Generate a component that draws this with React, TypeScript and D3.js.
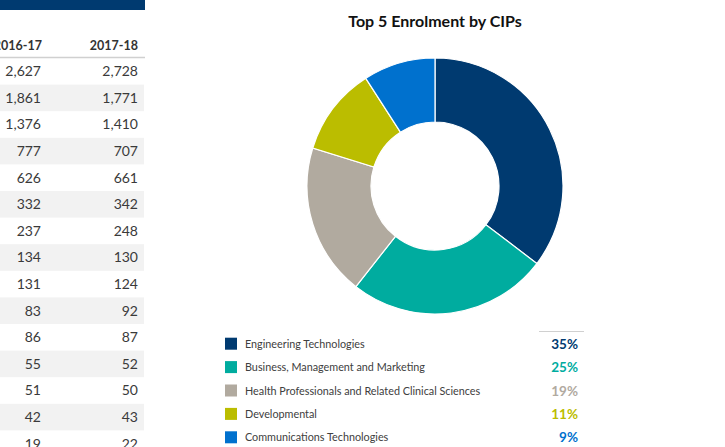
import React from 'react';
import * as d3 from 'd3';

// table on the left (cut off by the crop)
const years = ['2016-17', '2017-18'];
const enrol1617 = [2627, 1861, 1376, 777, 626, 332, 237, 134, 131, 83, 86, 55, 51, 42, 19];
const enrol1718 = [2728, 1771, 1410, 707, 661, 342, 248, 130, 124, 92, 87, 52, 50, 43, 22];

// donut
const title = 'Top 5 Enrolment by CIPs';
const cips = [
  'Engineering Technologies',
  'Business, Management and Marketing',
  'Health Professionals and Related Clinical Sciences',
  'Developmental',
  'Communications Technologies',
];
const shares = [35, 25, 19, 11, 9];
const colors = ['#003A70', '#00AC9F', '#B1AA9F', '#BBBD00', '#0071CE'];

const W = 725;
const H = 447;
const font = 'Lato, "Open Sans", sans-serif';

const App = () => {
  const fmt = d3.format(',');

  const rowY = d3.scaleBand<number>()
    .domain(enrol1617.map((v, i) => i))
    .range([58, 58 + 26.6 * enrol1617.length]);

  const color = d3.scaleOrdinal<string, string>().domain(cips).range(colors);

  const pie = d3.pie<number>().sort(null).value(d => d);
  const arcs = pie(shares);
  const arc = d3.arc<d3.PieArcDatum<number>>().innerRadius(64).outerRadius(128);

  const legendY = d3.scaleBand<number>()
    .domain(cips.map((c, i) => i))
    .range([332, 449]);

  return (
    <svg width={W} height={H} style={{ position: 'absolute', left: 0, top: 0 }} fontFamily={font}>
      <rect width={W} height={H} fill="#fff" />

      {/* table */}
      <rect x={0} y={0} width={145} height={10} fill="#003A70" />
      <text x={42} y={50} textAnchor="end" fontSize={12.5} fontWeight={700} fill="#333">{years[0]}</text>
      <text x={138} y={50} textAnchor="end" fontSize={12.5} fontWeight={700} fill="#333">{years[1]}</text>
      <line x1={0} x2={145} y1={57.5} y2={57.5} stroke="#d0d0d0" strokeWidth={1.5} />
      {enrol1617.map((v, i) => (
        <g key={i} transform={`translate(0,${rowY(i)})`}>
          {i % 2 === 1 && <rect x={0} width={144} height={rowY.bandwidth()} fill="#F2F2F2" />}
          <text x={41} y={rowY.bandwidth() / 2 + 5} textAnchor="end" fontSize={14} fill="#3a3a3a">{fmt(v)}</text>
          <text x={138} y={rowY.bandwidth() / 2 + 5} textAnchor="end" fontSize={14} fill="#3a3a3a">{fmt(enrol1718[i])}</text>
        </g>
      ))}

      {/* donut */}
      <text x={435} y={27} textAnchor="middle" fontSize={16} fontWeight={700} fill="#111">{title}</text>
      <g transform="translate(435,186)">
        {arcs.map((a, i) => (
          <path key={i} d={arc(a) || ''} fill={color(cips[i])} stroke="#fff" strokeWidth={1.2} />
        ))}
      </g>

      {/* legend */}
      <line x1={539} x2={584} y1={331.5} y2={331.5} stroke="#d0d0d0" strokeWidth={1} />
      {cips.map((c, i) => {
        const cy = (legendY(i) || 0) + legendY.bandwidth() / 2;
        return (
          <g key={c}>
            <rect x={225} y={cy - 6} width={12} height={12} fill={color(c)} />
            <text x={245} y={cy + 4} fontSize={10.8} fill="#404040">{c}</text>
            <text x={578} y={cy + 5} textAnchor="end" fontSize={13.5} fontWeight={700} fill={color(c)}>{shares[i]}%</text>
          </g>
        );
      })}
    </svg>
  );
};

export default App;
